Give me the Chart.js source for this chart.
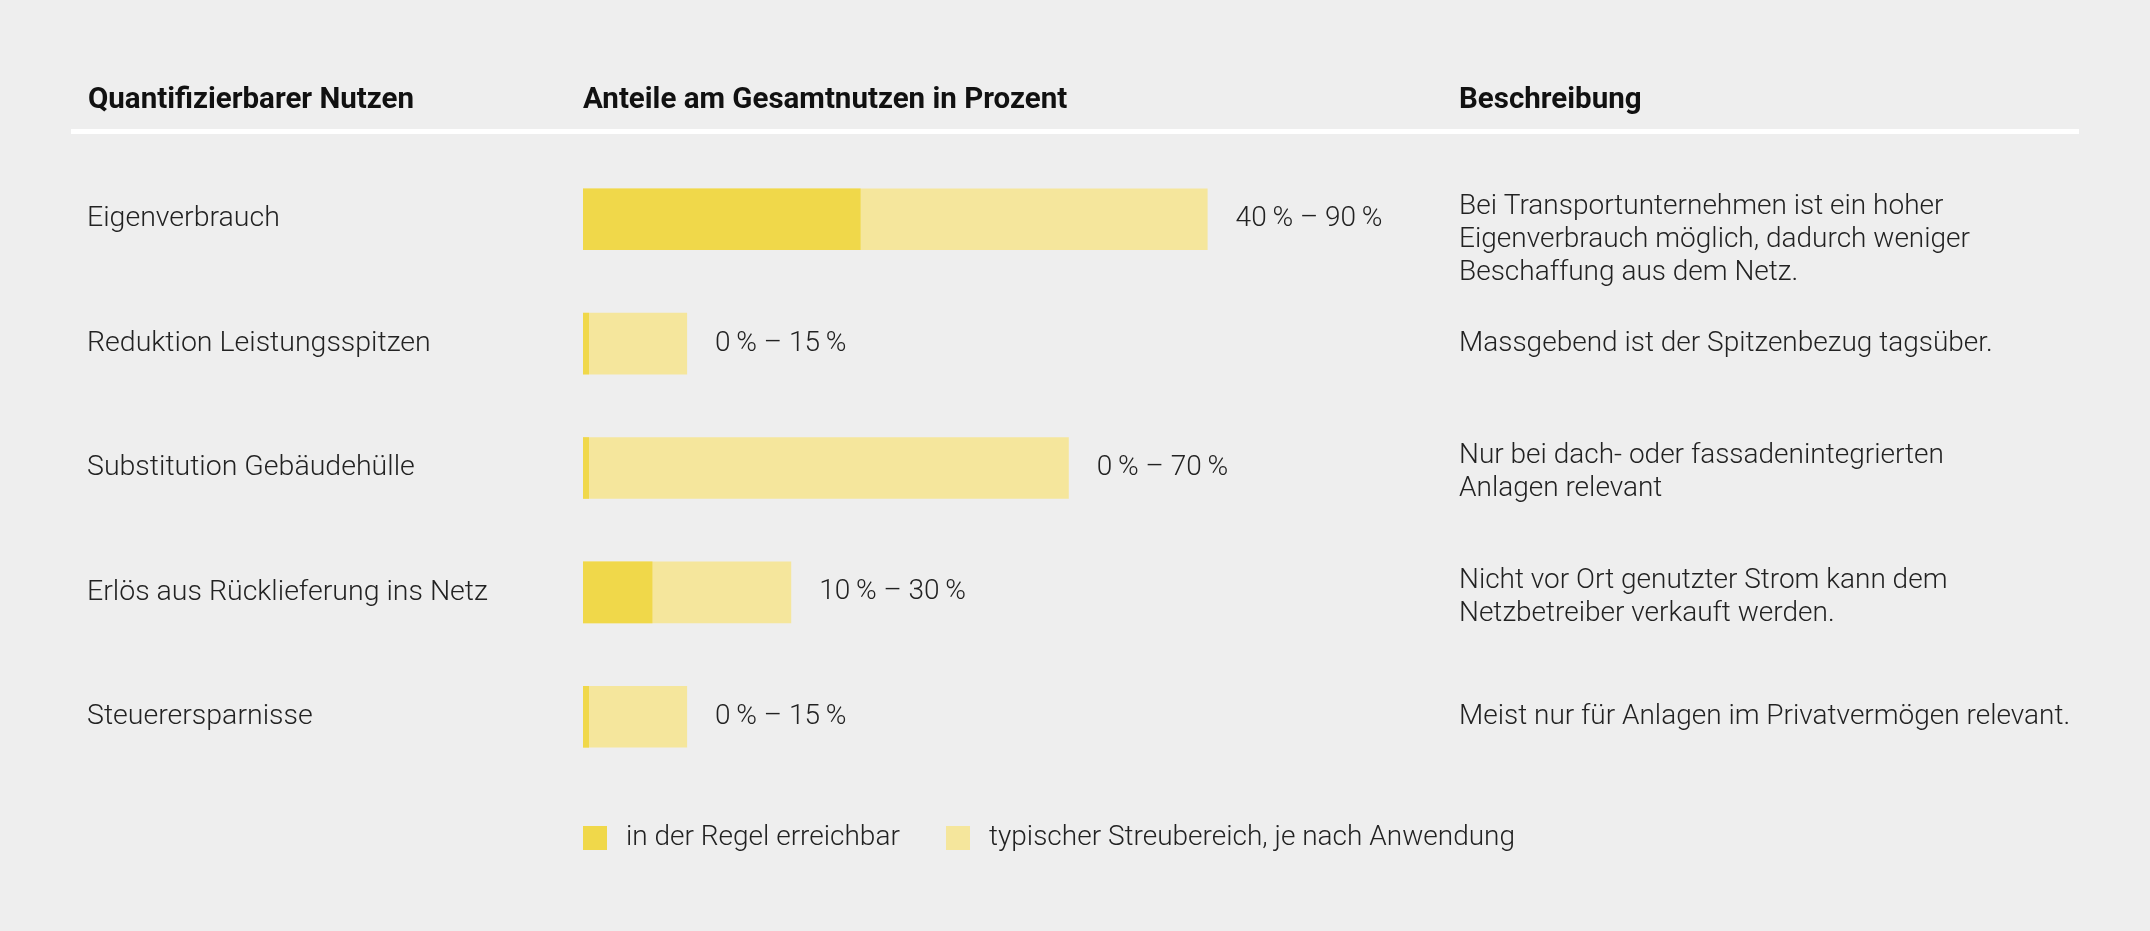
<!DOCTYPE html>
<html lang="de">
<head>
<meta charset="utf-8">
<title>Quantifizierbarer Nutzen</title>
<script src="https://cdn.jsdelivr.net/npm/chart.js@4.4.1/dist/chart.umd.min.js"></script>
<style>
  html, body { margin: 0; padding: 0; background: #eeeeee; }
  #wrap { position: relative; width: 2150px; height: 931px; }
</style>
</head>
<body>
<div id="wrap"><canvas id="chartCanva"></canvas></div>
<script>
// Data
const categories = [
    "Eigenverbrauch",
    "Reduktion Leistungsspitzen",
    "Substitution Gebäudehülle",
    "Erlös aus Rücklieferung ins Netz",
    "Steuerersparnisse",
];
const minValues = [40, 0, 0, 10, 0]; // in der Regel erreichbar
const maxValues = [90, 15, 70, 30, 15]; // typischer Streubereich
const seriesLabels = ["in der Regel erreichbar", "typischer Streubereich, je nach Anwendung"];
const columnHeaders = ["Quantifizierbarer Nutzen", "Anteile am Gesamtnutzen in Prozent", "Beschreibung"];
const descriptions = [
    ["Bei Transportunternehmen ist ein hoher", "Eigenverbrauch möglich, dadurch weniger", "Beschaffung aus dem Netz."],
    ["Massgebend ist der Spitzenbezug tagsüber."],
    ["Nur bei dach- oder fassadenintegrierten", "Anlagen relevant"],
    ["Nicht vor Ort genutzter Strom kann dem", "Netzbetreiber verkauft werden."],
    ["Meist nur für Anlagen im Privatvermögen relevant."],
];

const FONT = "Roboto, 'Liberation Sans', sans-serif";
const DARK = "#f0d84a";
const LIGHT = "#f5e69c";
const DESC_X = 1459;

// draws the table around the bars: headers, rule, value labels, descriptions, legend
const tablePlugin = {
    id: "table",
    beforeDraw(chart) {
        const ctx = chart.ctx;
        ctx.save();
        ctx.fillStyle = "#eeeeee";
        ctx.fillRect(0, 0, chart.width, chart.height);

        ctx.fillStyle = "#111111";
        ctx.font = `bold 29.5px ${FONT}`;
        ctx.textBaseline = "alphabetic";
        ctx.fillText(columnHeaders[0], 88, 108);
        ctx.fillText(columnHeaders[1], chart.chartArea.left, 108);
        ctx.fillText(columnHeaders[2], DESC_X, 108);

        ctx.fillStyle = "#ffffff";
        ctx.fillRect(71, 129, 2008, 5);
        ctx.restore();
    },
    afterDatasetsDraw(chart) {
        const ctx = chart.ctx;
        const light = chart.getDatasetMeta(1).data;
        ctx.save();
        ctx.font = `300 28px ${FONT}`;
        ctx.fillStyle = "#222222";
        ctx.textBaseline = "middle";

        light.forEach((bar, i) => {
            // range label right of the bar
            const label = `${minValues[i]}\u2009% – ${maxValues[i]}\u2009%`;
            ctx.fillText(label, bar.x + 28, bar.y);

            // description, multi-line text starts near the bar top
            const lines = descriptions[i];
            const lh = 33;
            let y0 = bar.y;
            if (lines.length > 1) {
                const top = bar.y - bar.height / 2 + 19;
                y0 = Math.max(bar.y - (lines.length - 1) * lh / 2 + 4, top);
            }
            lines.forEach((line, k) => {
                ctx.fillText(line, DESC_X, y0 + k * lh);
            });
        });

        // legend
        const colors = [DARK, LIGHT];
        const legendX = [583, 946];
        const legendY = 838;
        seriesLabels.forEach((txt, i) => {
            ctx.fillStyle = colors[i];
            ctx.fillRect(legendX[i], legendY - 12, 24, 24);
            ctx.fillStyle = "#222222";
            ctx.fillText(txt, legendX[i] + 43, legendY);
        });
        ctx.restore();
    },
};

new Chart(document.getElementById("chartCanva"), {
    type: "bar",
    data: {
        labels: categories,
        datasets: [
            {
                label: seriesLabels[0],
                data: minValues,
                backgroundColor: DARK,
                minBarLength: 6,
            },
            {
                label: seriesLabels[1],
                data: maxValues,
                backgroundColor: LIGHT,
            },
        ],
    },
    options: {
        indexAxis: "y",
        responsive: true,
        maintainAspectRatio: false,
        animation: false,
        events: [],
        datasets: {
            bar: {
                grouped: false,
                categoryPercentage: 0.495,
                barPercentage: 1,
            },
        },
        layout: {
            padding: { left: 87, right: 873, top: 157, bottom: 152 },
        },
        scales: {
            x: {
                display: false,
                min: 0,
                max: 100,
            },
            y: {
                grid: { display: false },
                border: { display: false },
                ticks: {
                    crossAlign: "far",
                    padding: 0,
                    color: "#222222",
                    font: { family: FONT, size: 28.5, weight: "300" },
                },
                afterFit(scale) {
                    scale.width = 583 - 87; // left column width
                },
            },
        },
        plugins: {
            legend: { display: false },
            tooltip: { enabled: false },
        },
    },
    plugins: [tablePlugin],
});
</script>
</body>
</html>
